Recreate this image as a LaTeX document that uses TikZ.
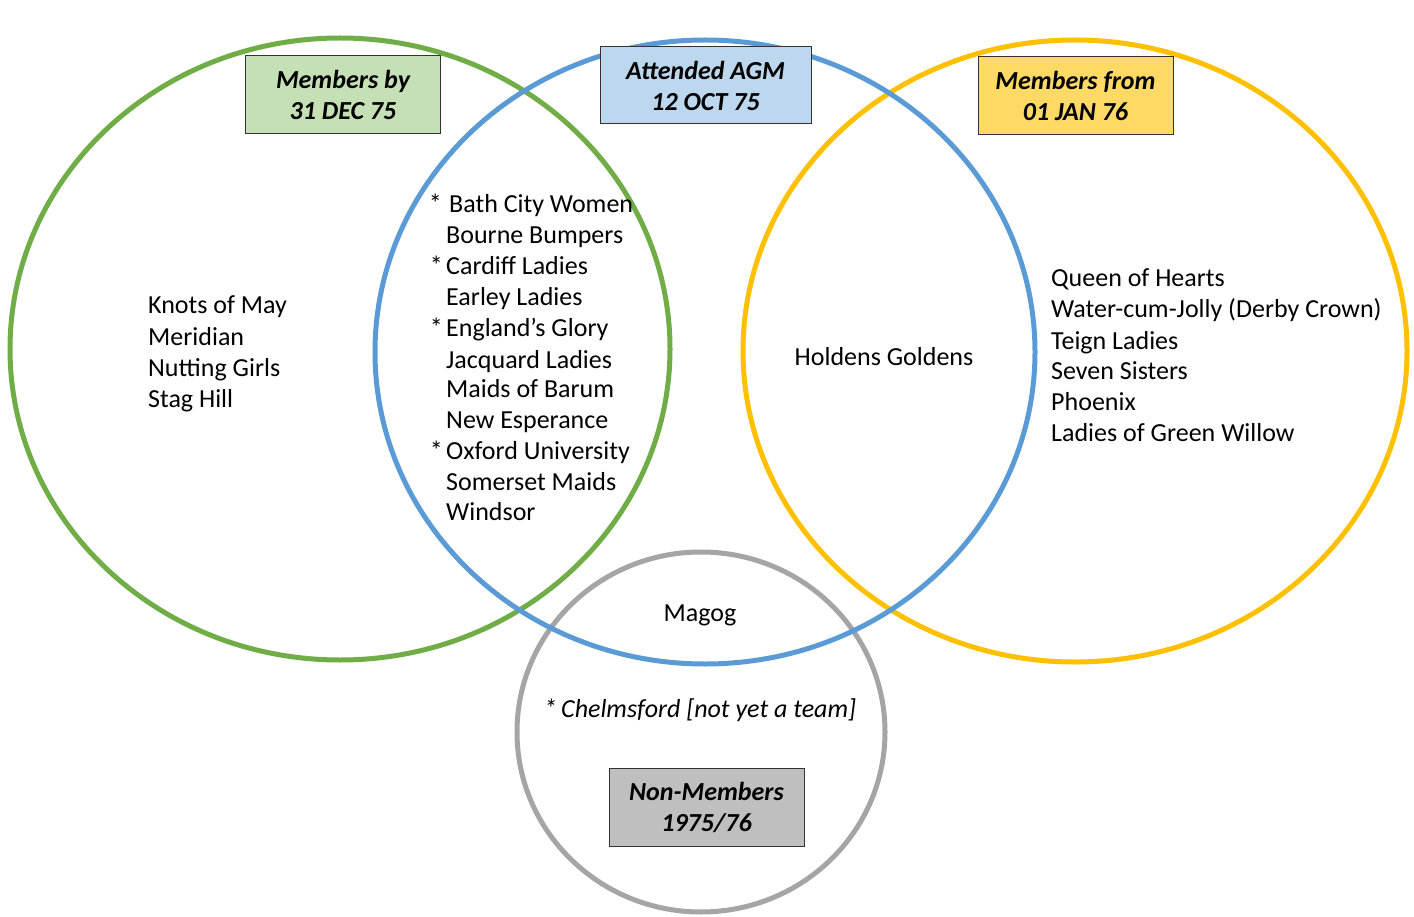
\documentclass[tikz,border=0pt]{standalone}
\usepackage{fontspec}
\setmainfont{Carlito}
\begin{document}
\begin{tikzpicture}[x=1pt,y=-1pt,
  ring/.style={line width=5pt},
  lbl/.style={draw=black!80, line width=1pt, minimum width=195pt, minimum height=78pt, align=center, font=\fontsize{26}{31}\selectfont\bfseries\itshape, inner sep=0pt},
  item/.style={anchor=base west, inner sep=0pt, font=\fontsize{26}{30}\selectfont},
  star/.style={anchor=base east, inner sep=0pt, font=\fontsize{26}{30}\selectfont}]
\useasboundingbox[fill=white] (0,0) rectangle (1414,917);
\definecolor{cgreen}{HTML}{70AD47}
\definecolor{cblue}{HTML}{5B9BD5}
\definecolor{cyellow}{HTML}{FFC000}
\definecolor{cgray}{HTML}{A5A5A5}
\definecolor{fgreen}{HTML}{C5E0B4}
\definecolor{fblue}{HTML}{BDD7EE}
\definecolor{fyellow}{HTML}{FFD966}
\definecolor{fgray}{HTML}{BFBFBF}
% circles
\draw[ring, cgreen] (340,349) ellipse [x radius=330, y radius=311];
\draw[ring, cyellow] (1075,351) ellipse [x radius=332, y radius=311];
\draw[ring, cgray] (701,732) ellipse [x radius=184, y radius=180];
\draw[ring, cblue] (705,352) ellipse [x radius=330, y radius=312];
% labels
\node[lbl, fill=fgreen] (lg) at (343,95) {Members by\\31 DEC 75};
\node[lbl, fill=fblue, minimum width=211pt, minimum height=77pt] (lb) at (705.5,85.5) {Attended AGM\\12 OCT 75};
\node[lbl, fill=fyellow] (ly) at (1075.5,95.5) {Members from\\01 JAN 76};
\node[lbl, fill=fgray] (lgr) at (706.5,807) {Non-Members\\1975/76};
% left list
\node[item] (l1) at (148,314) {Knots of May};
\node[item] (l2) at (148,345) {Meridian};
\node[item] (l3) at (148,376) {Nutting Girls};
\node[item] (l4) at (148,407) {Stag Hill};
% middle list
\node[item] (m1) at (449,213) {Bath City Women};
\node[item] (m2) at (446,244) {Bourne Bumpers};
\node[item] (m3) at (446,275) {Cardiff Ladies};
\node[item] (m4) at (446,306) {Earley Ladies};
\node[item] (m5) at (446,337) {England’s Glory};
\node[item] (m6) at (446,368) {Jacquard Ladies};
\node[item] (m7) at (446,397) {Maids of Barum};
\node[item] (m8) at (446,428) {New Esperance};
\node[item] (m9) at (446,459) {Oxford University};
\node[item] (m10) at (446,490) {Somerset Maids};
\node[item] (m11) at (446,520) {Windsor};
\node[star] (s1) at (442,213) {*};
\node[star] (s3) at (443,275) {*};
\node[star] (s5) at (443,337) {*};
\node[star] (s9) at (443,459) {*};
% right list
\node[item] (r1) at (1051,287) {Queen of Hearts};
\node[item] (r2) at (1051,318) {Water-cum-Jolly (Derby Crown)};
\node[item] (r3) at (1051,349) {Teign Ladies};
\node[item] (r4) at (1051,379) {Seven Sisters};
\node[item] (r5) at (1051,410) {Phoenix};
\node[item] (r6) at (1051,441) {Ladies of Green Willow};
% intersections
\node[item, anchor=base] (hg) at (884,366) {Holdens Goldens};
\node[item, anchor=base] (mg) at (700,621) {Magog};
\node[item, anchor=base, font=\fontsize{26}{30}\selectfont\itshape] (ch) at (700,717) {*\,Chelmsford [not yet a team]};
\end{tikzpicture}
\end{document}
